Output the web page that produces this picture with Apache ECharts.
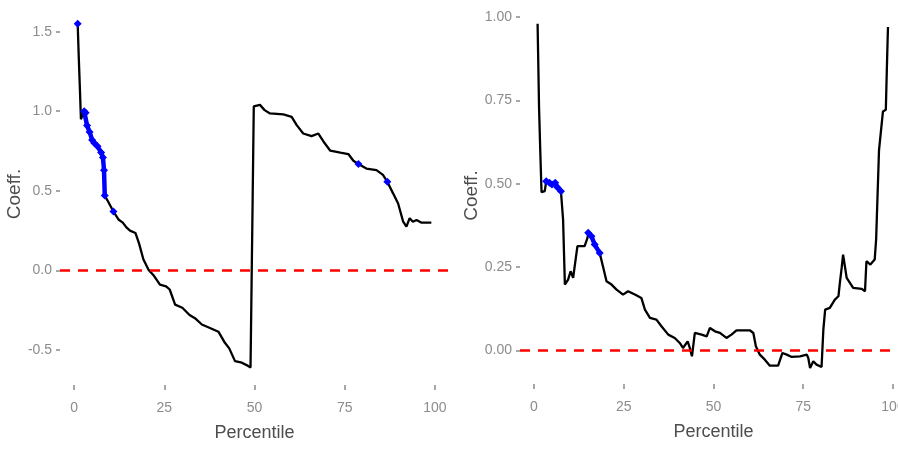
<!DOCTYPE html>
<html>
<head>
<meta charset="utf-8">
<script src="https://cdn.jsdelivr.net/npm/echarts@6/dist/echarts.min.js"></script>
<style>
html,body{margin:0;padding:0;background:#fff;overflow:hidden;}
#c{width:912px;height:449px;}
</style>
</head>
<body>
<div id="c"></div>
<script>
// ---- data ----
const xTicks = [0, 25, 50, 75, 100];
const leftYTicks = [-0.5, 0.0, 0.5, 1.0, 1.5];
const rightYTicks = [0.00, 0.25, 0.50, 0.75, 1.00];

const leftLine = [
  [1, 1.55], [1.3, 1.34], [1.6, 1.15], [1.9, 0.95], [2.3, 0.94], [2.8, 1.00], [3.2, 0.99],
  [3.6, 0.91], [4.3, 0.87], [5.0, 0.82], [5.6, 0.80], [6.5, 0.78], [7.5, 0.74], [8.0, 0.71],
  [8.3, 0.63], [8.5, 0.47], [9.5, 0.43], [10.9, 0.37], [12.3, 0.32], [13.5, 0.30], [14.5, 0.27],
  [15.5, 0.25], [17.0, 0.235], [18.0, 0.17], [19.2, 0.07], [20.6, 0.005], [22.0, -0.03],
  [23.8, -0.09], [25.5, -0.10], [26.5, -0.12], [28.0, -0.215], [30.0, -0.235], [32.0, -0.28],
  [33.5, -0.30], [35.4, -0.34], [37.5, -0.36], [40.0, -0.385], [41.8, -0.455], [43.0, -0.49],
  [44.6, -0.57], [46.5, -0.58], [47.8, -0.595], [48.9, -0.61], [49.2, -0.61], [49.2, -0.07],
  [49.5, -0.07], [49.5, 0.47], [49.8, 0.47], [49.8, 1.03], [51.5, 1.04], [52.8, 1.007],
  [54.3, 0.986], [58.0, 0.98], [60.3, 0.965], [61.7, 0.913], [63.5, 0.86], [65.8, 0.844],
  [67.7, 0.86], [69.1, 0.81], [71.0, 0.752], [73.8, 0.74], [76.0, 0.731], [77.4, 0.689],
  [78.8, 0.668], [81.0, 0.64], [83.8, 0.63], [85.6, 0.60], [86.8, 0.557], [88.4, 0.484],
  [89.8, 0.42], [91.2, 0.306], [92.1, 0.275], [93.0, 0.328], [93.9, 0.306], [94.9, 0.317],
  [96.3, 0.30], [99.0, 0.30]
];
const leftSignif = [
  [[1, 1.55]],
  [[2.8, 1.00], [3.2, 0.99], [3.6, 0.91], [4.3, 0.87], [5.0, 0.82], [5.6, 0.80], [6.5, 0.78],
   [7.5, 0.74], [8.0, 0.71], [8.3, 0.63], [8.5, 0.47]],
  [[10.9, 0.37]],
  [[78.8, 0.668]],
  [[86.8, 0.557]]
];

const rightLine = [
  [1, 0.98], [1.2, 0.857], [1.4, 0.732], [1.75, 0.597], [2.1, 0.475], [3.0, 0.478], [3.4, 0.508],
  [4.3, 0.503], [5.0, 0.498], [5.9, 0.503], [6.5, 0.49], [7.5, 0.478], [8.1, 0.393], [8.6, 0.198],
  [9.5, 0.213], [10.2, 0.238], [10.9, 0.218], [12.1, 0.313], [14.1, 0.313], [14.9, 0.338],
  [15.1, 0.353], [16.0, 0.343], [16.9, 0.318], [18.3, 0.293], [19.2, 0.253], [20.2, 0.208],
  [21.6, 0.198], [23.0, 0.183], [24.8, 0.168], [26.2, 0.178], [28.1, 0.168], [29.9, 0.158],
  [30.9, 0.123], [32.3, 0.098], [34.1, 0.093], [35.5, 0.073], [37.4, 0.048], [39.2, 0.038],
  [40.6, 0.023], [41.5, 0.008], [42.8, 0.028], [43.4, 0.008], [44.0, -0.017], [44.8, 0.053],
  [46.7, 0.048], [48.1, 0.043], [49.0, 0.068], [50.4, 0.058], [51.8, 0.053], [53.6, 0.038],
  [55.0, 0.048], [56.4, 0.061], [60.1, 0.061], [61.1, 0.053], [61.8, 0.013], [62.9, -0.012],
  [64.3, -0.027], [65.7, -0.045], [68.0, -0.045], [69.2, -0.007], [70.4, -0.012], [71.8, -0.019],
  [74.1, -0.017], [76.0, -0.012], [76.4, -0.022], [76.9, -0.052], [77.8, -0.032], [78.7, -0.042],
  [80.1, -0.049], [80.6, 0.063], [81.1, 0.123], [82.4, 0.128], [83.8, 0.153], [84.8, 0.163],
  [85.2, 0.203], [85.7, 0.248], [86.1, 0.288], [87.1, 0.218], [88.9, 0.188], [91.3, 0.185],
  [92.2, 0.178], [92.6, 0.268], [93.7, 0.258], [94.9, 0.273], [95.3, 0.333], [95.5, 0.40],
  [96.1, 0.60], [97.2, 0.717], [98.0, 0.722], [98.3, 0.85], [98.6, 0.97]
];
const rightSignif = [
  [[3.4, 0.508], [4.3, 0.503], [5.0, 0.498], [5.9, 0.503], [6.5, 0.49], [7.5, 0.478]],
  [[15.1, 0.353], [16.0, 0.343], [16.9, 0.318], [18.3, 0.293]]
];
const refValue = 0;

// ---- chart ----
const font = "'Liberation Sans', Arial, sans-serif";
const labelColor = '#8c8c8c';
const titleColor = '#4d4d4d';

function xAxisCfg(gi) {
  return {
    type: 'value', gridIndex: gi, min: -3.9, max: 103.9,
    name: 'Percentile', nameLocation: 'middle', nameGap: 39,
    nameTextStyle: {fontFamily: font, fontSize: 18, color: titleColor},
    axisLine: {show: false, onZero: false},
    axisTick: {show: true, length: 5, customValues: xTicks, lineStyle: {color: '#8a8a8a', width: 1.5}},
    axisLabel: {customValues: xTicks, margin: 16, fontFamily: font, fontSize: 14, color: labelColor},
    splitLine: {show: false}
  };
}
function yAxisCfg(gi, mn, mx, ticks, dec, gap) {
  return {
    type: 'value', gridIndex: gi, min: mn, max: mx,
    name: 'Coeff.', nameLocation: 'middle', nameGap: gap, nameRotate: 90,
    nameTextStyle: {fontFamily: font, fontSize: 19, color: titleColor},
    axisLine: {show: false, onZero: false},
    axisTick: {show: true, length: 4, customValues: ticks, lineStyle: {color: '#8a8a8a', width: 1.5}},
    axisLabel: {customValues: ticks, margin: 8, fontFamily: font, fontSize: 14, color: labelColor,
      formatter: v => Number(v).toFixed(dec)},
    splitLine: {show: false}
  };
}

const series = [];
function addPanel(idx, line, signif) {
  series.push({
    type: 'line', xAxisIndex: idx, yAxisIndex: idx, data: line, showSymbol: false,
    symbol: 'none', lineStyle: {color: '#000', width: 2.3}, z: 3, silent: true,
    markLine: {
      silent: true, symbol: 'none', label: {show: false},
      lineStyle: {color: '#ff0000', type: [10, 8], width: 2.5},
      data: [{yAxis: refValue}]
    }
  });
  signif.forEach(g => {
    series.push({
      type: 'line', xAxisIndex: idx, yAxisIndex: idx, data: g,
      symbol: 'diamond', symbolSize: 8, showSymbol: true,
      itemStyle: {color: '#0000ff'}, lineStyle: {color: '#0000ff', width: 4.5}, z: 4, silent: true
    });
  });
}
addPanel(0, leftLine, leftSignif);
addPanel(1, rightLine, rightSignif);

const chart = echarts.init(document.getElementById('c'), null, {renderer: 'canvas'});
chart.setOption({
  animation: false,
  backgroundColor: '#fff',
  grid: [
    {left: 60, top: 3, width: 389, height: 382, containLabel: false},
    {left: 520, top: 7, width: 387, height: 377, containLabel: false}
  ],
  xAxis: [xAxisCfg(0), xAxisCfg(1)],
  yAxis: [
    yAxisCfg(0, -0.72, 1.68, leftYTicks, 1, 36),
    yAxisCfg(1, -0.1, 1.03, rightYTicks, 2, 38)
  ],
  series: series
});
</script>
</body>
</html>
